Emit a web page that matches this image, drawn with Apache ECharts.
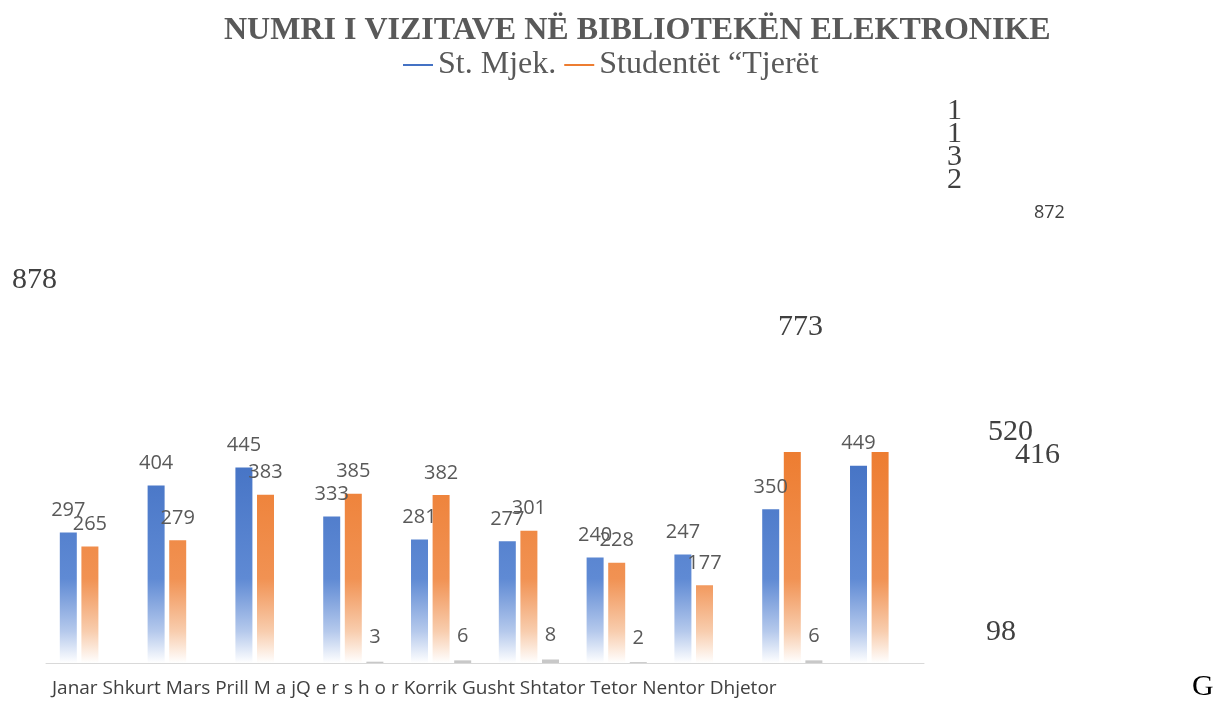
<!DOCTYPE html>
<html>
<head>
<meta charset="utf-8">
<script src="https://cdn.jsdelivr.net/npm/echarts@6/dist/echarts.min.js"></script>
<style>
  html, body { margin: 0; padding: 0; background: #fff; }
  #chart { width: 1218px; height: 702px; }
</style>
</head>
<body>
<div id="chart"></div>
<script>
// groups of bars, as drawn (10 groups)
var groups = ['G1', 'G2', 'G3', 'G4', 'G5', 'G6', 'G7', 'G8', 'G9', 'G10']
var stMjek = [297, 404, 445, 333, 281, 277, 240, 247, 350, 449]
var studentet = [265, 279, 383, 385, 382, 301, 228, 177, 773, 878]
var tjeret = [null, null, null, 3, 6, 8, 2, null, 6, null]
// month text under the axis (as printed)
var monthLabels = ['Janar', 'Shkurt', 'Mars', 'Prill', 'M a jQ e r s h o r', 'Korrik', 'Gusht', 'Shtator', 'Tetor', 'Nentor', 'Dhjetor']
// loose value labels floating around the chart
var strayValues = ['878', '773', '872', '520', '416', '98']
var strayDigits = ['1', '1', '3', '2']

var chart = echarts.init(document.getElementById('chart'))

function fade(c1, c2, c3) {
  // fades into white near the baseline
  return new echarts.graphic.LinearGradient(0, 452, 0, 663, [
    { offset: 0, color: c1 },
    { offset: 0.6, color: c2 },
    { offset: 0.85, color: c3 },
    { offset: 1, color: '#ffffff' }
  ], true)
}

var labelStyle = {
  show: true,
  position: 'top',
  distance: 12,
  color: '#595959',
  fontFamily: 'Open Sans',
  fontSize: 20
}

var serif = 'Liberation Serif'
var strayFont = '30px "Liberation Serif"'

chart.setOption({
  animation: false,
  title: {
    text: 'NUMRI I VIZITAVE NË BIBLIOTEKËN ELEKTRONIKE',
    left: 219,
    top: 10,
    textStyle: {
      fontFamily: serif,
      fontWeight: 'bold',
      fontSize: 32,
      color: '#595959'
    }
  },
  legend: {
    data: ['St. Mjek.', 'Studentët'],
    top: 44,
    left: 398,
    icon: 'rect',
    itemWidth: 30,
    itemHeight: 2,
    itemGap: 8,
    formatter: function (name) {
      return name === 'Studentët' ? 'Studentët “Tjerët' : name
    },
    textStyle: { fontFamily: serif, fontSize: 32, color: '#595959' }
  },
  grid: { left: 46, right: 294, top: 452, bottom: 39 },
  xAxis: {
    type: 'category',
    data: groups,
    axisLine: { lineStyle: { color: '#d9d9d9' } },
    axisTick: { show: false },
    axisLabel: { show: false }
  },
  yAxis: {
    type: 'value',
    min: 0,
    max: 480,
    show: false,
    splitLine: { show: false }
  },
  series: [
    {
      name: 'St. Mjek.',
      type: 'bar',
      barWidth: 17,
      barGap: '27%',
      itemStyle: { color: fade('#4472C4', '#5f8ad4', '#b5c9ec') },
      label: labelStyle,
      data: stMjek
    },
    {
      name: 'Studentët',
      type: 'bar',
      barWidth: 17,
      barGap: '27%',
      itemStyle: { color: fade('#ED7D31', '#f19253', '#f8cdae') },
      label: labelStyle,
      data: studentet.map(function (v) {
        return v > 480 ? { value: v, label: { show: false } } : v
      })
    },
    {
      name: 'Tjerët',
      type: 'bar',
      barWidth: 17,
      barGap: '27%',
      itemStyle: { color: '#c8c8c8' },
      label: Object.assign({}, labelStyle, { distance: 14 }),
      data: tjeret
    }
  ],
  graphic: [
    {
      type: 'text', left: 52, top: 679,
      style: { text: monthLabels.join(' '), font: '19px "Open Sans"', fill: '#404040' }
    },
    { type: 'text', left: 12, top: 265, style: { text: strayValues[0], font: strayFont, fill: '#404040' } },
    { type: 'text', left: 778, top: 312, style: { text: strayValues[1], font: strayFont, fill: '#404040' } },
    { type: 'text', left: 1034, top: 204, style: { text: strayValues[2], font: '18px "Open Sans"', fill: '#404040' } },
    { type: 'text', left: 988, top: 417, style: { text: strayValues[3], font: strayFont, fill: '#404040' } },
    { type: 'text', left: 1015, top: 440, style: { text: strayValues[4], font: strayFont, fill: '#404040' } },
    { type: 'text', left: 986, top: 617, style: { text: strayValues[5], font: strayFont, fill: '#404040' } },
    {
      type: 'text', left: 947, top: 96,
      style: { text: strayDigits.join('\n'), font: strayFont, lineHeight: 23, fill: '#404040' }
    },
    { type: 'text', left: 1192, top: 672, style: { text: 'G', font: strayFont, fill: '#000000' } }
  ]
})
</script>
</body>
</html>
